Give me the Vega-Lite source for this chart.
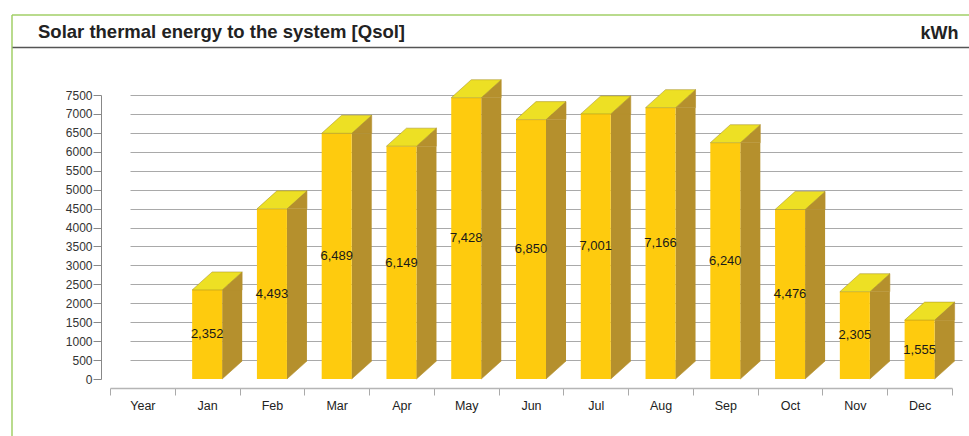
{
  "$schema": "https://vega.github.io/schema/vega-lite/v6.json",
  "width": 957,
  "height": 421,
  "autosize": {"type": "none"},
  "padding": {"left": 12, "top": 15, "right": 0, "bottom": 0},
  "background": "white",
  "view": {"stroke": "#a2cf68", "strokeWidth": 1.5, "strokeDash": [957, 1378, 421, 0]},
  "title": {
    "text": "Solar thermal energy to the system [Qsol]",
    "anchor": "start", "frame": "group", "dx": 26, "dy": 16, "offset": -19, "baseline": "middle",
    "font": "Liberation Sans",
    "fontSize": 18.5, "fontWeight": "bold", "color": "#222"
  },
  "data": {"values": [
    {"month": "Jan", "value": 2352},
    {"month": "Feb", "value": 4493},
    {"month": "Mar", "value": 6489},
    {"month": "Apr", "value": 6149},
    {"month": "May", "value": 7428},
    {"month": "Jun", "value": 6850},
    {"month": "Jul", "value": 7001},
    {"month": "Aug", "value": 7166},
    {"month": "Sep", "value": 6240},
    {"month": "Oct", "value": 4476},
    {"month": "Nov", "value": 2305},
    {"month": "Dec", "value": 1555}
  ]},
  "layer": [
    {
      "mark": {"type": "point", "opacity": 0},
      "encoding": {
        "x": {"datum": 0, "type": "quantitative", "scale": {"domain": [0, 1], "range": [118, 950]}, "axis": null},
        "y": {"datum": 0, "type": "quantitative",
          "scale": {"domain": [0, 7500], "range": [364, 80], "nice": false, "zero": true},
          "axis": {
            "orient": "left", "offset": -89, "title": null,
            "values": [0, 500, 1000, 1500, 2000, 2500, 3000, 3500, 4000, 4500, 5000, 5500, 6000, 6500, 7000, 7500],
            "format": "d", "grid": true, "gridColor": "#a9a9a9", "gridWidth": 1,
            "gridOpacity": {"condition": {"test": "datum.value === 0", "value": 0}, "value": 1},
            "domainColor": "#888", "domainWidth": 1, "tickColor": "#888", "tickSize": 8,
            "labelPadding": 1, "labelFont": "Liberation Sans", "labelFontSize": 12, "labelColor": "#333"
          }
        }
      }
    },
    {
      "mark": {"type": "point", "opacity": 0},
      "encoding": {
        "x": {"datum": 0, "type": "quantitative", "scale": {"domain": [0, 1]},
          "axis": {
            "orient": "top", "offset": -32, "domainColor": "#555", "domainWidth": 1.6,
            "ticks": false, "labels": false, "grid": false,
            "title": "kWh", "titleX": 946, "titleY": -14, "titleAlign": "right", "titleBaseline": "middle",
            "titleAngle": 0, "titleFont": "Liberation Sans",
            "titleFontSize": 18, "titleFontWeight": "bold", "titleColor": "#222"
          }
        }
      }
    },
    {
      "encoding": {
        "x": {"field": "month", "type": "nominal",
          "scale": {"type": "band", "domain": ["Year", "Jan", "Feb", "Mar", "Apr", "May", "Jun", "Jul", "Aug", "Sep", "Oct", "Nov", "Dec"], "range": [98, 940], "paddingInner": 0, "paddingOuter": 0},
          "axis": {
            "orient": "bottom", "offset": -48, "title": null, "tickBand": "extent",
            "tickSize": 7, "tickColor": "#aaa", "domainColor": "#b5b5b5", "domainWidth": 1.5,
            "labelFont": "Liberation Sans", "labelFontSize": 12.5, "labelColor": "#222", "labelPadding": 4, "labelAngle": 0
          }
        }
      },
      "layer": [
        {
          "layer": [
            {
              "mark": {"type": "bar", "width": 20, "xOffset": 25, "y2Offset": -18, "color": "#b5902d"},
              "encoding": {
                "y": {"field": "value", "type": "quantitative", "scale": {"domain": [0, 7500], "range": [364, 80], "nice": false, "zero": true}, "axis": null},
                "y2": {"datum": 0}
              }
            },
            {
              "mark": {"type": "point", "shape": "M15,0L35,-18L35,0Z", "size": 4, "filled": true, "opacity": 1, "color": "#b5902d", "stroke": "#b5902d", "strokeWidth": 0.6},
              "encoding": {
                "y": {"field": "value", "type": "quantitative", "scale": {"domain": [0, 7500], "range": [364, 80], "nice": false, "zero": true}, "axis": null}
              }
            },
            {
              "mark": {"type": "point", "shape": "M15,-18L35,-18L15,0Z", "size": 4, "filled": true, "opacity": 1, "color": "#b5902d", "stroke": "#b5902d", "strokeWidth": 0.6},
              "encoding": {
                "y": {"datum": 0, "type": "quantitative", "scale": {"domain": [0, 7500], "range": [364, 80], "nice": false, "zero": true}, "axis": null}
              }
            },
            {
              "mark": {"type": "bar", "width": 30, "color": "#fecb0e"},
              "encoding": {
                "y": {"field": "value", "type": "quantitative", "scale": {"domain": [0, 7500], "range": [364, 80], "nice": false, "zero": true}, "axis": null}
              }
            },
            {
              "mark": {"type": "point", "shape": "M-15,0L15,0L35,-18L5,-18Z", "size": 4, "filled": true, "opacity": 1, "color": "#ede024", "stroke": "#a08a20", "strokeWidth": 0.5},
              "encoding": {
                "y": {"field": "value", "type": "quantitative", "scale": {"domain": [0, 7500], "range": [364, 80], "nice": false, "zero": true}, "axis": null}
              }
            }
          ]
        },
        {
          "mark": {"type": "text", "baseline": "middle", "align": "center", "font": "Liberation Sans", "fontSize": 13, "color": "#1a1a1a"},
          "encoding": {
            "y": {"field": "value", "type": "quantitative", "scale": {"domain": [0, 15000], "range": [364, 80], "nice": false, "zero": true}, "axis": null},
            "text": {"field": "value", "type": "quantitative", "format": ","}
          }
        }
      ],
      "resolve": {"scale": {"y": "independent"}}
    }
  ],
  "resolve": {"scale": {"x": "independent", "y": "independent"}}
}
